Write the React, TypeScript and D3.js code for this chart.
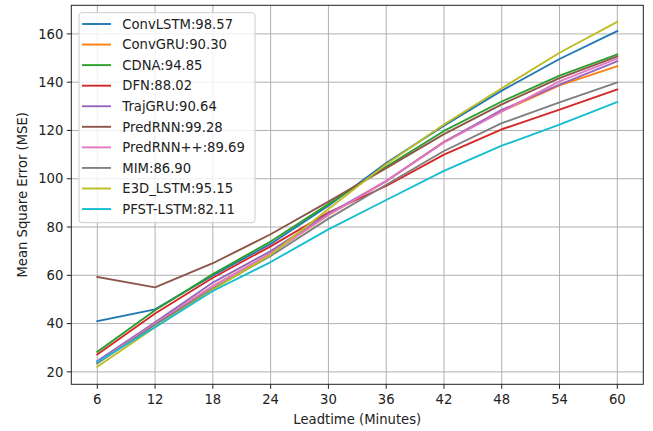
import React from 'react'
import * as d3 from 'd3'

const leadtimes = [6, 12, 18, 24, 30, 36, 42, 48, 54, 60]
const yTicks = [20, 40, 60, 80, 100, 120, 140, 160]

const convLSTM = [41, 45.9, 60, 73, 88.8, 106.5, 122, 136.5, 149.6, 161.2]
const convGRU = [24, 40, 55.5, 69, 85, 99, 115.3, 128, 138.7, 146.6]
const cdna = [28.3, 45.5, 60.5, 74, 89.5, 105, 119.8, 132, 142.7, 151.5]
const dfn = [27.2, 44.2, 59, 72, 86, 97, 110, 120.5, 128.6, 137]
const trajGRU = [24.5, 40.5, 57, 70, 85.5, 99, 115.2, 128.5, 139, 148.7]
const predRNN = [59.3, 55, 65, 77, 90.5, 104.4, 118.5, 130.8, 141.7, 150.7]
const predRNNpp = [23.8, 40, 55.5, 69, 85, 99, 115, 127.8, 140.3, 149.8]
const mim = [23.5, 39.5, 54.5, 68, 83.5, 97.5, 111.5, 123, 131.6, 139.9]
const e3dLSTM = [22.1, 38.5, 54, 68.5, 87.5, 106, 122.5, 137.5, 152.2, 165]
const pfstLSTM = [24.1, 38.5, 53.5, 65.5, 79, 91.2, 103.3, 113.7, 122.4, 131.8]

const names = ['ConvLSTM:98.57', 'ConvGRU:90.30', 'CDNA:94.85', 'DFN:88.02', 'TrajGRU:90.64',
    'PredRNN:99.28', 'PredRNN++:89.69', 'MIM:86.90', 'E3D_LSTM:95.15', 'PFST-LSTM:82.11']
const series = [convLSTM, convGRU, cdna, dfn, trajGRU, predRNN, predRNNpp, mim, e3dLSTM, pfstLSTM]
const colors = ['#1f77b4', '#ff7f0e', '#2ca02c', '#d62728', '#9467bd',
    '#8c564b', '#e377c2', '#7f7f7f', '#bcbd22', '#17becf']

export default function App() {
    const width = 653
    const height = 431
    const left = 71.3, right = 643.3, top = 5.3, bottom = 384.3
    const font = 'DejaVu Sans, sans-serif'
    const fs = 13.2

    let x = d3.scaleLinear().domain([3.3, 62.7]).range([left, right])
    let y = d3.scaleLinear().domain([14.85, 171.85]).range([bottom, top])

    let line = d3.line<number>()
        .x((d, i) => x(leadtimes[i]))
        .y(d => y(d))

    const lgX = 79, lgY = 12.7, lgW = 176, lgH = 210, rowH = 20.56

    return (
        <svg width={width} height={height} style={{ position: 'absolute', left: 0, top: 0 }}
            fontFamily={font}>
            <rect width={width} height={height} fill='white' />
            {/* grid */}
            {leadtimes.map(t => (
                <line key={'gx' + t} x1={x(t)} x2={x(t)} y1={top} y2={bottom} stroke='#b0b0b0' strokeWidth={1} />
            ))}
            {yTicks.map(t => (
                <line key={'gy' + t} x1={left} x2={right} y1={y(t)} y2={y(t)} stroke='#b0b0b0' strokeWidth={1} />
            ))}
            {/* series */}
            {series.map((s, i) => (
                <path key={names[i]} d={line(s) || ''} fill='none' stroke={colors[i]} strokeWidth={1.9}
                    strokeLinejoin='round' strokeLinecap='square' />
            ))}
            {/* spines */}
            <rect x={left} y={top} width={right - left} height={bottom - top} fill='none' stroke='#222' strokeWidth={1} />
            {/* x ticks */}
            {leadtimes.map(t => (
                <g key={'xt' + t}>
                    <line x1={x(t)} x2={x(t)} y1={bottom} y2={bottom + 4.5} stroke='#222' strokeWidth={1} />
                    <text x={x(t)} y={bottom + 19.5} textAnchor='middle' fontSize={fs} fill='#222'>{t}</text>
                </g>
            ))}
            {/* y ticks */}
            {yTicks.map(t => (
                <g key={'yt' + t}>
                    <line x1={left - 4.5} x2={left} y1={y(t)} y2={y(t)} stroke='#222' strokeWidth={1} />
                    <text x={left - 8} y={y(t)} dy='0.36em' textAnchor='end' fontSize={fs} fill='#222'>{t}</text>
                </g>
            ))}
            <text x={(left + right) / 2} y={424} textAnchor='middle' fontSize={fs} fill='#222'>Leadtime (Minutes)</text>
            <text transform={`translate(26.5, ${(top + bottom) / 2}) rotate(-90)`} textAnchor='middle'
                fontSize={fs} fill='#222'>Mean Square Error (MSE)</text>
            {/* legend */}
            <rect x={lgX} y={lgY} width={lgW} height={lgH} rx={3} fill='white' fillOpacity={0.8}
                stroke='#cccccc' strokeWidth={1} />
            {names.map((n, i) => (
                <g key={'lg' + n}>
                    <line x1={82} x2={111} y1={24 + i * rowH} y2={24 + i * rowH} stroke={colors[i]} strokeWidth={1.9} />
                    <text x={122.3} y={24 + i * rowH} dy='0.36em' fontSize={fs} fill='#222'>{n}</text>
                </g>
            ))}
        </svg>
    )
}
